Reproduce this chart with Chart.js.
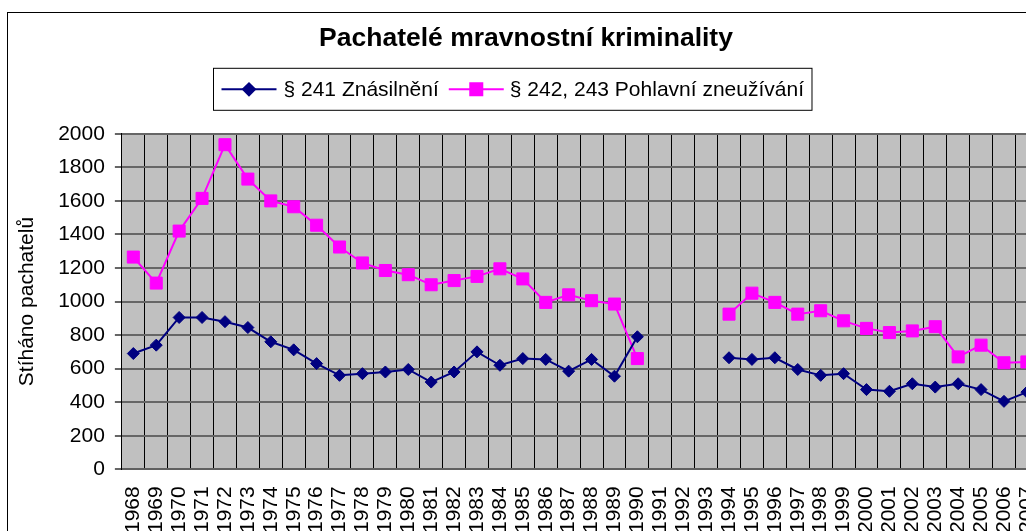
<!DOCTYPE html>
<html>
<head>
<meta charset="utf-8">
<script src="https://cdn.jsdelivr.net/npm/chart.js@4.4.1/dist/chart.umd.min.js"></script>
<style>
html, body { margin: 0; padding: 0; background: #fff; overflow: hidden; width: 1026px; height: 531px; }
#frame { position: absolute; left: 7px; top: 12px; border: 1px solid #000; width: 1040px; height: 540px; background: #fff; }
</style>
</head>
<body>
<div id="frame"><canvas id="crimeChart" width="1040" height="540"></canvas></div>
<script>
// years on the x axis (1991-1993 have no data)
var years = ['1968', '1969', '1970', '1971', '1972', '1973', '1974', '1975', '1976', '1977',
    '1978', '1979', '1980', '1981', '1982', '1983', '1984', '1985', '1986', '1987',
    '1988', '1989', '1990', '1991', '1992', '1993', '1994', '1995', '1996', '1997',
    '1998', '1999', '2000', '2001', '2002', '2003', '2004', '2005', '2006', '2007'];

// § 241 Znásilnění
var rape = [690, 740, 905, 905, 880, 845, 760, 712, 630, 560,
    570, 580, 595, 520, 580, 700, 620, 660, 655, 585,
    655, 555, 790, null, null, null, 665, 655, 665, 595,
    560, 570, 475, 465, 510, 490, 510, 475, 405, 460];

// § 242, 243 Pohlavní zneužívání
var abuse = [1265, 1110, 1420, 1615, 1935, 1730, 1600, 1565, 1455, 1325,
    1230, 1185, 1160, 1100, 1125, 1150, 1195, 1135, 995, 1040,
    1005, 985, 660, null, null, null, 925, 1050, 995, 925,
    945, 885, 840, 815, 825, 850, 670, 740, 635, 640];

var seriesNames = ['§ 241 Znásilnění', '§ 242, 243 Pohlavní zneužívání'];
var yMin = 0, yMax = 2000, yStep = 200;

var fontFamily = "'Liberation Sans', Arial, sans-serif";
var navy = '#000080';
var magenta = '#FF00FF';

// grey plot area like the old Excel charts
var plotBackground = {
    id: 'plotBackground',
    beforeDraw: function (chart) {
        var a = chart.chartArea;
        var ctx = chart.ctx;
        ctx.save();
        ctx.fillStyle = '#C0C0C0';
        ctx.fillRect(a.left, a.top, a.right - a.left, a.bottom - a.top);
        ctx.restore();
    }
};

// boxed legend drawn between the title and the plot
var boxedLegend = {
    id: 'boxedLegend',
    afterDraw: function (chart) {
        var ctx = chart.ctx;
        ctx.save();
        ctx.font = '21px ' + fontFamily;
        var sample = 55;
        var w1 = ctx.measureText(chart.data.datasets[0].label).width;
        var w2 = ctx.measureText(chart.data.datasets[1].label).width;
        var boxW = 8 + sample + 7 + w1 + 10 + sample + 6 + w2 + 8;
        var boxH = 42;
        var left = Math.round(chart.width / 2 - 16 - boxW / 2) + 0.5;
        var top = chart.chartArea.top - 66 + 0.5;
        ctx.strokeStyle = '#000';
        ctx.lineWidth = 1;
        ctx.strokeRect(left, top, boxW, boxH);

        var cy = top + boxH / 2;
        var x = left + 8;
        chart.data.datasets.forEach(function (ds, i) {
            ctx.strokeStyle = ds.borderColor;
            ctx.lineWidth = 2;
            ctx.beginPath();
            ctx.moveTo(x, cy);
            ctx.lineTo(x + sample, cy);
            ctx.stroke();
            Chart.helpers.drawPoint(ctx, {
                pointStyle: ds.pointStyle,
                radius: ds.pointRadius,
                borderWidth: 1,
                rotation: 0
            }, x + sample / 2, cy);
            ctx.fillStyle = ds.borderColor;
            ctx.fill();
            x += sample + (i === 0 ? 7 : 6);
            ctx.fillStyle = '#000';
            ctx.textBaseline = 'middle';
            ctx.textAlign = 'left';
            ctx.fillText(ds.label, x, cy + 1);
            x += (i === 0 ? w1 : w2) + 10;
        });
        ctx.restore();
    }
};

var ctx = document.getElementById('crimeChart').getContext('2d');
var crimeChart = new Chart(ctx, {
    type: 'line',
    data: {
        labels: years,
        datasets: [{
            label: seriesNames[0],
            data: rape,
            borderColor: navy,
            backgroundColor: navy,
            borderWidth: 2,
            pointStyle: 'rectRot',
            pointRadius: 6,
            pointBorderWidth: 1,
            tension: 0,
            spanGaps: false
        }, {
            label: seriesNames[1],
            data: abuse,
            borderColor: magenta,
            backgroundColor: magenta,
            borderWidth: 2,
            pointStyle: 'rect',
            pointRadius: 8.5,
            pointBorderWidth: 1,
            tension: 0,
            spanGaps: false
        }]
    },
    options: {
        responsive: false,
        animation: false,
        layout: {
            padding: { left: 0, right: 4, top: 0, bottom: 20 }
        },
        plugins: {
            legend: { display: false },
            tooltip: { enabled: false },
            title: {
                display: true,
                text: 'Pachatelé mravnostní kriminality',
                color: '#000',
                font: { family: fontFamily, size: 26.5, weight: 'bold' },
                padding: { top: 10, bottom: 79 }
            }
        },
        scales: {
            x: {
                type: 'category',
                offset: true,
                grid: {
                    color: '#000',
                    lineWidth: 1,
                    offset: true,
                    drawTicks: true,
                    tickLength: 17,
                    tickColor: 'rgba(0,0,0,0)'
                },
                border: { color: '#606060', width: 2 },
                ticks: {
                    autoSkip: false,
                    minRotation: 90,
                    maxRotation: 90,
                    padding: 0,
                    color: '#000',
                    font: { family: fontFamily, size: 21, lineHeight: 1 }
                }
            },
            y: {
                min: yMin,
                max: yMax,
                grid: { color: '#666', lineWidth: 2, tickLength: 7 },
                border: { color: '#000', width: 1 },
                ticks: {
                    stepSize: yStep,
                    padding: 10,
                    color: '#000',
                    font: { family: fontFamily, size: 21 },
                    callback: function (value) { return String(value); }
                },
                title: {
                    display: true,
                    text: 'Stíháno pachatelů',
                    color: '#000',
                    font: { family: fontFamily, size: 21, lineHeight: 1.15 },
                    padding: { top: 7, bottom: 9 }
                }
            }
        }
    },
    plugins: [plotBackground, boxedLegend]
});
</script>
</body>
</html>
